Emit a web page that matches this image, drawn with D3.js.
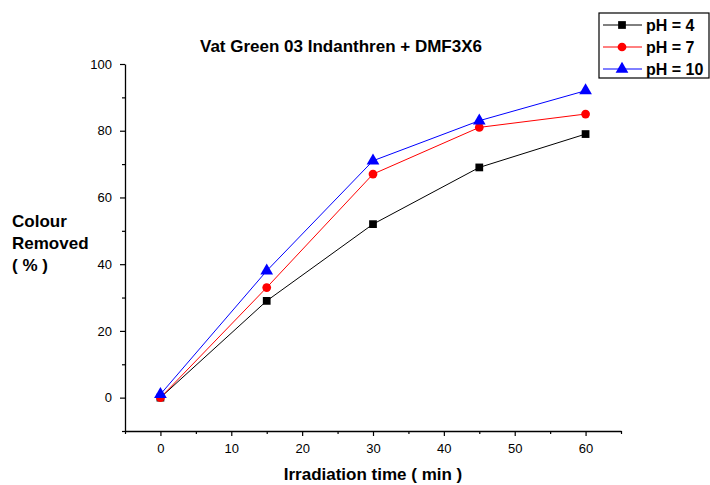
<!DOCTYPE html>
<html>
<head>
<meta charset="utf-8">
<script src="https://cdn.jsdelivr.net/npm/d3@7"></script>
<style>
  body { margin: 0; background: #fff; }
  text { font-family: "Liberation Sans", Arial, sans-serif; }
</style>
</head>
<body>
<svg id="chart" width="710" height="485"></svg>
<script>
var times = [0, 15, 30, 45, 60];
var ph4 = [0, 29, 52, 69, 79];
var ph7 = [0, 33, 67, 81, 85];
var ph10 = [1, 38, 71, 83, 92];
var xTicks = [0, 10, 20, 30, 40, 50, 60];
var yTicks = [0, 20, 40, 60, 80, 100];

var series = [
  {name: "pH = 4", values: ph4, color: "#000000", symbol: d3.symbolSquare},
  {name: "pH = 7", values: ph7, color: "#ff0000", symbol: d3.symbolCircle},
  {name: "pH = 10", values: ph10, color: "#0000ff", symbol: d3.symbolTriangle}
];

var svg = d3.select("#chart");

var x = d3.scaleLinear().domain([-5, 65]).range([125, 621]);
var y = d3.scaleLinear().domain([-10, 100]).range([431, 64]);

// x axis
svg.append("g")
    .attr("transform", "translate(0," + y(-10) + ")")
    .call(d3.axisBottom(x).tickValues(xTicks).tickSize(5).tickPadding(8).tickSizeOuter(0));
svg.append("g")
    .attr("transform", "translate(0," + y(-10) + ")")
    .call(d3.axisBottom(x).tickValues([-5, 5, 15, 25, 35, 45, 55, 65]).tickSize(3).tickFormat(""))
    .select(".domain").remove();

// y axis
svg.append("g")
    .attr("transform", "translate(" + x(-5) + ",0)")
    .call(d3.axisLeft(y).tickValues(yTicks).tickSize(5).tickPadding(8).tickSizeOuter(0));
svg.append("g")
    .attr("transform", "translate(" + x(-5) + ",0)")
    .call(d3.axisLeft(y).tickValues([-10, 10, 30, 50, 70, 90]).tickSize(3).tickFormat(""))
    .select(".domain").remove();

svg.selectAll(".domain").attr("stroke", "#000").attr("stroke-width", 1.3);
svg.selectAll(".tick line").attr("stroke", "#000").attr("stroke-width", 1.2);
svg.selectAll(".tick text").attr("font-size", 13).attr("fill", "#000")
    .style("font-family", "Liberation Sans, Arial, sans-serif");

var line = d3.line()
    .x(function(d, i) { return x(times[i]); })
    .y(function(d) { return y(d); });

series.forEach(function(s) {
  svg.append("path")
      .datum(s.values)
      .attr("fill", "none")
      .attr("stroke", s.color)
      .attr("stroke-width", 1)
      .attr("d", line);
});

series.forEach(function(s) {
  svg.selectAll(null)
      .data(s.values)
      .enter()
      .append("path")
      .attr("d", d3.symbol().type(s.symbol).size(s.symbol === d3.symbolTriangle ? 70 : 60))
      .attr("fill", s.color)
      .attr("transform", function(d, i) {
        return "translate(" + x(times[i]) + "," + y(d) + ")";
      });
});

// title
svg.append("text")
    .attr("x", 341)
    .attr("y", 52)
    .attr("text-anchor", "middle")
    .attr("font-size", 17)
    .attr("font-weight", "bold")
    .text("Vat Green 03 Indanthren + DMF3X6");

// axis labels
svg.append("text")
    .attr("x", 373)
    .attr("y", 480)
    .attr("text-anchor", "middle")
    .attr("font-size", 17)
    .attr("font-weight", "bold")
    .text("Irradiation time ( min )");

var yLabel = ["Colour", "Removed", "( % )"];
svg.selectAll(".ylab")
    .data(yLabel)
    .enter()
    .append("text")
    .attr("class", "ylab")
    .attr("x", 12)
    .attr("y", function(d, i) { return 227 + i * 22; })
    .attr("font-size", 17)
    .attr("font-weight", "bold")
    .text(function(d) { return d; });

// legend
var legend = svg.append("g");
legend.append("rect")
    .attr("x", 599)
    .attr("y", 13)
    .attr("width", 110)
    .attr("height", 65)
    .attr("fill", "#fff")
    .attr("stroke", "#000")
    .attr("stroke-width", 1.2);

series.forEach(function(s, i) {
  var ly = 25 + i * 22;
  legend.append("line")
      .attr("x1", 603).attr("x2", 642)
      .attr("y1", ly).attr("y2", ly)
      .attr("stroke", s.color)
      .attr("stroke-width", 1);
  legend.append("path")
      .attr("d", d3.symbol().type(s.symbol).size(s.symbol === d3.symbolTriangle ? 70 : 60))
      .attr("fill", s.color)
      .attr("transform", "translate(622," + ly + ")");
  legend.append("text")
      .attr("x", 646)
      .attr("y", ly + 6)
      .attr("font-size", 16)
      .attr("font-weight", "bold")
      .text(s.name);
});
</script>
</body>
</html>
